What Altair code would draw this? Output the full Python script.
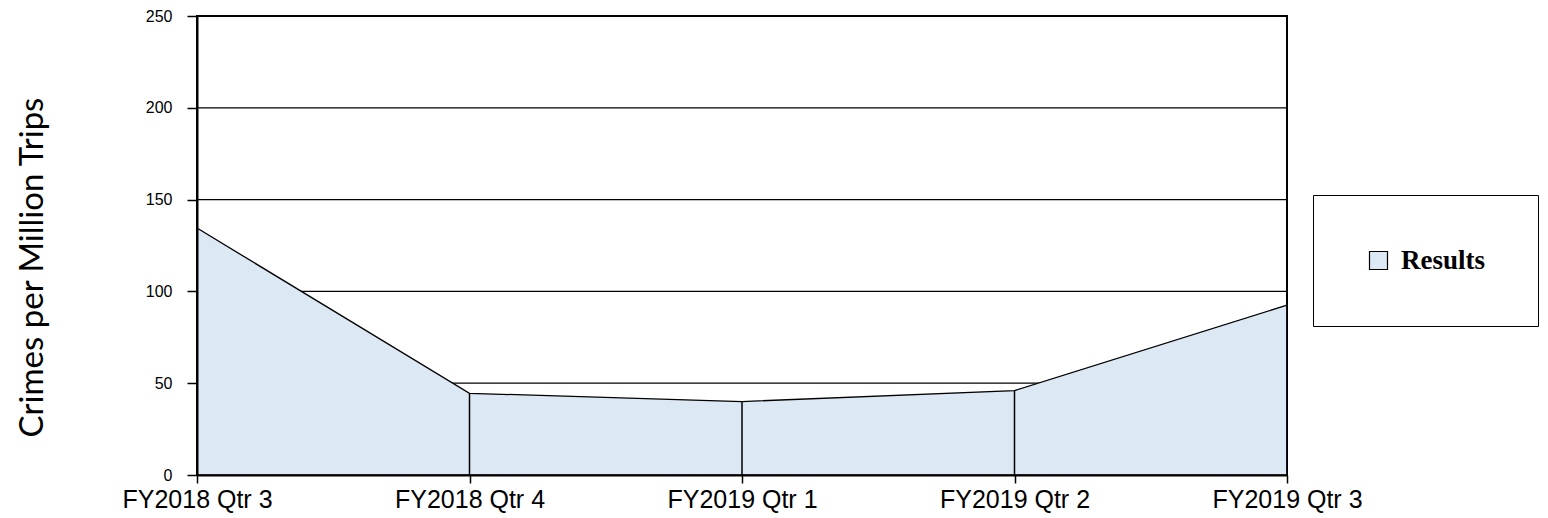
import altair as alt
import pandas as pd

quarters = ["FY2018 Qtr 3", "FY2018 Qtr 4", "FY2019 Qtr 1", "FY2019 Qtr 2", "FY2019 Qtr 3"]
results = [134.5, 44.5, 40.0, 46.0, 92.5]
series = ["Results"] * len(quarters)
grid_values = [50, 100, 150, 200, 250]
y_ticks = [0, 50, 100, 150, 200, 250]

df = pd.DataFrame({"quarter": quarters, "value": results, "series": series})
grid_df = pd.DataFrame({"g": grid_values})

x_scale = alt.Scale(type="point", padding=0)
y_scale = alt.Scale(domain=[0, 250], nice=False)

x_axis = alt.Axis(
    title=None,
    labelAngle=0,
    labelFont="Liberation Sans",
    labelFontSize=25,
    labelColor="black",
    labelPadding=4,
    labelFlush=False,
    labelOverlap=False,
    tickSize=8,
    tickColor="black",
    tickWidth=1.5,
    domainColor="black",
    domainWidth=2,
    grid=False,
    zindex=2,
)

y_axis = alt.Axis(
    title="Crimes per Million Trips",
    values=y_ticks,
    grid=False,
    labelFont="Liberation Sans",
    labelFontSize=16,
    labelColor="black",
    labelPadding=15,
    tickSize=10,
    tickColor="black",
    tickWidth=1.5,
    domainColor="black",
    domainWidth=2,
    titleFont="Lato",
    titleFontSize=33,
    titleFontWeight="normal",
    titleColor="black",
    titleAngle=270,
    titleAlign="center",
    titleBaseline="alphabetic",
    titleX=-155,
    titleY=251,
    zindex=2,
)

grid = (
    alt.Chart(grid_df)
    .mark_rule(color="black", strokeWidth=1.2)
    .encode(y=alt.Y("g:Q", scale=y_scale, axis=y_axis))
)

area = (
    alt.Chart(df)
    .mark_area(stroke="black", strokeWidth=1.3, opacity=1)
    .encode(
        x=alt.X("quarter:N", sort=quarters, scale=x_scale, axis=x_axis),
        y=alt.Y("value:Q", scale=y_scale, axis=y_axis),
        color=alt.Color(
            "series:N",
            scale=alt.Scale(range=["#dde8f5"]),
            legend=alt.Legend(
                title=None,
                orient="none",
                legendX=1116,
                legendY=179,
                padding=52,
                strokeColor="black",
                fillColor="white",
                symbolType="square",
                symbolSize=324,
                symbolStrokeColor="black",
                symbolStrokeWidth=1.2,
                symbolFillColor="#dde8f5",
                labelFont="Liberation Serif",
                labelFontWeight="bold",
                labelFontSize=27,
                labelColor="black",
                labelOffset=9,
            ),
        ),
    )
)

drops = (
    alt.Chart(df)
    .mark_rule(color="black", strokeWidth=1.5)
    .encode(
        x=alt.X("quarter:N", sort=quarters, scale=x_scale, axis=x_axis),
        y=alt.Y("value:Q", scale=y_scale, axis=y_axis),
        y2=alt.datum(0),
    )
)

chart = (
    alt.layer(grid, area, drops)
    .properties(
        width=1090,
        height=459,
        autosize="none",
        padding={"left": 189, "top": 8, "right": 253, "bottom": 38},
        background="white",
    )
    .configure_view(stroke="black", strokeWidth=2)
)

chart.save("out.html", embed_options={"renderer": "svg", "actions": False})
